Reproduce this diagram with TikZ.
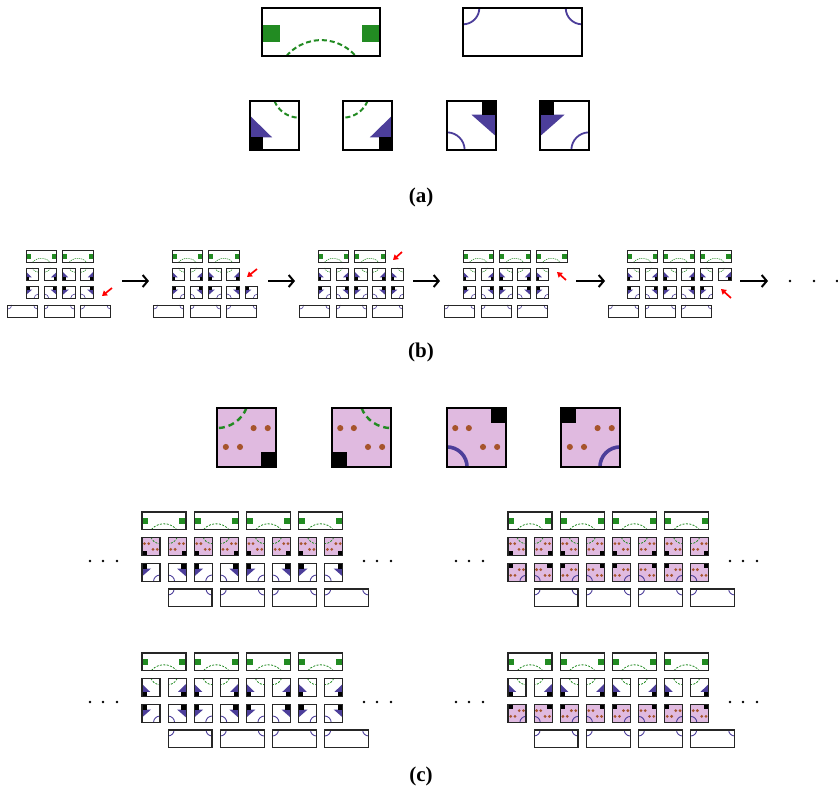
\documentclass[tikz,border=0pt]{standalone}
\usepackage{fontspec}
\setmainfont{Liberation Serif}
\usetikzlibrary{arrows.meta}
\definecolor{grn}{RGB}{34,139,34}
\definecolor{blu}{RGB}{76,62,154}
\definecolor{pnk}{RGB}{224,186,224}
\definecolor{dotc}{RGB}{166,84,44}
\tikzset{
 rw/.store in=\rw, rw=2.5,
 dotr/.store in=\dotr, dotr=0.052,
 frm/.style={draw=black,line width=1pt},
 garc/.style={draw=grn,dashed,line width=0.6pt},
 barc/.style={draw=blu,line width=0.6pt},
 tri/.style={fill=blu},
 blk/.style={fill=black},
 dotst/.style={fill=dotc},
 sizeA/.style={frm/.style={draw=black,line width=2.6pt},
   garc/.style={draw=grn,line width=2pt,dash pattern=on 5pt off 3pt},
   barc/.style={draw=blu,line width=1.8pt}},
 sizeB/.style={frm/.style={draw=black!85,line width=0.9pt},
   garc/.style={draw=grn,line width=0.55pt,dash pattern=on 1.3pt off 0.9pt},
   barc/.style={draw=blu,line width=0.6pt}},
 sizeC/.style={dotr=0.085,frm/.style={draw=black!85,line width=1.2pt},
   garc/.style={draw=grn,line width=0.8pt,dash pattern=on 2pt off 1.4pt},
   barc/.style={draw=blu,line width=0.9pt}},
 sizeD/.style={dotr=0.052,frm/.style={draw=black,line width=2.8pt},
   garc/.style={draw=grn,line width=2.4pt,dash pattern=on 6pt off 4pt},
   barc/.style={draw=blu,line width=3.6pt}},
 lab/.style={font=\fontsize{21}{24}\selectfont\bfseries},
 bigarr/.style={line width=2pt,-{Straight Barb[length=5pt,width=12pt]}},
 redarr/.style={red,line width=1.7pt,-{Triangle[length=5pt,width=6pt]}},
 w1/.pic={
  \fill[white] (0,0) rectangle (1,1);
  \fill[tri] (0,0.3) -- (0,0.74) -- (0.45,0.74) -- cycle;
  \fill[blk] (0,0.74) rectangle (0.26,1);
  \draw[garc] (0.5,0) arc[start angle=158.4,end angle=90,radius=0.538];
  \draw[frm] (0,0) rectangle (1,1);
 },
 w2/.pic={
  \fill[white] (0,0) rectangle (1,1);
  \fill[tri] (1,0.3) -- (1,0.74) -- (0.55,0.74) -- cycle;
  \fill[blk] (0.74,0.74) rectangle (1,1);
  \draw[garc] (0.5,0) arc[start angle=21.6,end angle=90,radius=0.538];
  \draw[frm] (0,0) rectangle (1,1);
 },
 w3/.pic={
  \fill[white] (0,0) rectangle (1,1);
  \fill[tri] (0.5,0.28) -- (1,0.28) -- (1,0.72) -- cycle;
  \fill[blk] (0.72,0) rectangle (1,0.28);
  \draw[barc] (0,0.64) arc[start angle=270,end angle=360,radius=0.36];
  \draw[frm] (0,0) rectangle (1,1);
 },
 w4/.pic={
  \fill[white] (0,0) rectangle (1,1);
  \fill[tri] (0.5,0.28) -- (0,0.28) -- (0,0.72) -- cycle;
  \fill[blk] (0,0) rectangle (0.28,0.28);
  \draw[barc] (1,0.64) arc[start angle=270,end angle=180,radius=0.36];
  \draw[frm] (0,0) rectangle (1,1);
 },
 p1/.pic={
  \fill[pnk] (0,0) rectangle (1,1);
  \fill[blk] (0,0.75) rectangle (0.25,1);
  \foreach \a/\b in {0.14/0.34,0.37/0.34,0.61/0.66,0.85/0.66} \fill[dotst] (\a,\b) circle[radius=\dotr];
  \draw[garc] (0.5,0) arc[start angle=158.4,end angle=90,radius=0.538];
  \draw[frm] (0,0) rectangle (1,1);
 },
 p2/.pic={
  \fill[pnk] (0,0) rectangle (1,1);
  \fill[blk] (0.75,0.75) rectangle (1,1);
  \foreach \a/\b in {0.15/0.66,0.39/0.66,0.62/0.34,0.86/0.34} \fill[dotst] (\a,\b) circle[radius=\dotr];
  \draw[garc] (0.5,0) arc[start angle=21.6,end angle=90,radius=0.538];
  \draw[frm] (0,0) rectangle (1,1);
 },
 p3/.pic={
  \fill[pnk] (0,0) rectangle (1,1);
  \fill[blk] (0.74,0) rectangle (1,0.26);
  \foreach \a/\b in {0.14/0.34,0.37/0.34,0.61/0.66,0.85/0.66} \fill[dotst] (\a,\b) circle[radius=\dotr];
  \draw[barc] (0,0.66) arc[start angle=270,end angle=360,radius=0.34];
  \draw[frm] (0,0) rectangle (1,1);
 },
 p4/.pic={
  \fill[pnk] (0,0) rectangle (1,1);
  \fill[blk] (0,0) rectangle (0.26,0.26);
  \foreach \a/\b in {0.15/0.66,0.39/0.66,0.62/0.34,0.86/0.34} \fill[dotst] (\a,\b) circle[radius=\dotr];
  \draw[barc] (1,0.66) arc[start angle=270,end angle=180,radius=0.34];
  \draw[frm] (0,0) rectangle (1,1);
 },
 gr/.pic={
  \fill[white] (0,0) rectangle (\rw,1);
  \fill[grn] (0,0.35) rectangle (0.37,0.71);
  \fill[grn] ({\rw-0.37},0.35) rectangle (\rw,0.71);
  \draw[garc] ({\rw/2-0.72},1) arc[start angle=220.7,end angle=319.3,radius=0.95];
  \draw[frm] (0,0) rectangle (\rw,1);
 },
 br/.pic={
  \fill[white] (0,0) rectangle (\rw,1);
  \draw[barc] (0.34,0) arc[start angle=0,end angle=90,radius=0.34];
  \draw[barc] ({\rw-0.34},0) arc[start angle=180,end angle=90,radius=0.34];
  \draw[frm] (0,0) rectangle (\rw,1);
 },
}
% (b) configuration: x0, #green rects, #row2, #row3
\newcommand\bconf[4]{%
 \foreach \k in {1,...,#2} \pic[sizeB,rw=2.5,scale=12.3] at ({#1+(2*\k-2)*18.3},250) {gr};
 \foreach \i in {1,...,#3} {\ifodd\i \pic[sizeB,scale=12.5] at ({#1+(\i-1)*18.3},268) {w1};\else \pic[sizeB,scale=12.5] at ({#1+(\i-1)*18.3},268) {w2};\fi}
 \foreach \i in {1,...,#4} {\ifodd\i \pic[sizeB,scale=12.5] at ({#1+(\i-1)*18.3},286) {w4};\else \pic[sizeB,scale=12.5] at ({#1+(\i-1)*18.3},286) {w3};\fi}
 \foreach \k in {1,2,3} \pic[sizeB,rw=2.5,scale=12] at ({#1+(2*\k-3)*18.3},305) {br};
}
% (c) panel: x0, y0, row2 odd/even, row3 odd/even
\newcommand\cpanel[6]{%
 \foreach \k in {0,...,3} \pic[sizeC,rw=2.51,scale=17.5] at ({#1+\k*52.2},#2) {gr};
 \foreach \i in {0,...,7} {\ifodd\i \pic[sizeC,scale=18] at ({#1+\i*26.1},{#2+25.5}) {#4};\else \pic[sizeC,scale=18] at ({#1+\i*26.1},{#2+25.5}) {#3};\fi}
 \foreach \i in {0,...,7} {\ifodd\i \pic[sizeC,scale=18] at ({#1+\i*26.1},{#2+51.5}) {#6};\else \pic[sizeC,scale=18] at ({#1+\i*26.1},{#2+51.5}) {#5};\fi}
 \foreach \k in {0,...,3} \pic[sizeC,rw=2.51,scale=17.5] at ({#1+26.1+\k*52.2},{#2+77}) {br};
 \foreach \d in {-52,-39,-25,222,235,249} \fill ({#1+\d},{#2+49}) circle[radius=1.3];
}
\begin{document}
\begin{tikzpicture}[x=1pt,y=-1pt]
\useasboundingbox (0,0) rectangle (838,796);
\fill[white] (0,0) rectangle (838,796);
% ---------- (a)
\pic[sizeA,rw=2.46,scale=48] at (262,8) {gr};
\pic[sizeA,rw=2.48,scale=48] at (463,8) {br};
\pic[sizeA,scale=49] at (250,101) {w1};
\pic[sizeA,scale=49] at (343,101) {w2};
\pic[sizeA,scale=49] at (447,101) {w3};
\pic[sizeA,scale=49] at (540,101) {w4};
\node[lab] (la) at (421,197) {(a)};
% ---------- (b)
\bconf{26}{2}{4}{4}
\bconf{172}{2}{4}{5}
\bconf{318}{2}{5}{5}
\bconf{463}{3}{5}{5}
\bconf{627}{3}{6}{5}
\coordinate (a1s) at (122,281); \coordinate (a1e) at (149,281);
\coordinate (a2s) at (268,281); \coordinate (a2e) at (295,281);
\coordinate (a3s) at (413,281); \coordinate (a3e) at (440,281);
\coordinate (a4s) at (576,281); \coordinate (a4e) at (605,281);
\coordinate (a5s) at (740,281); \coordinate (a5e) at (768,281);
\foreach \n in {1,...,5} \draw[bigarr] (a\n s) -- (a\n e);
\coordinate (r1s) at (112,288); \coordinate (r1e) at (102,296);
\coordinate (r2s) at (257,269); \coordinate (r2e) at (247,277);
\coordinate (r3s) at (402,252); \coordinate (r3e) at (393,260);
\coordinate (r4s) at (566,280); \coordinate (r4e) at (557,272);
\coordinate (r5s) at (731,298); \coordinate (r5e) at (721,289);
\foreach \n in {1,...,5} \draw[redarr] (r\n s) -- (r\n e);
\foreach \x in {790,814,837} \fill (\x,281) circle[radius=1.4];
\node[lab] (lb) at (421,352) {(b)};
% ---------- (c)
\pic[sizeD,scale=59] at (217,408) {p2};
\pic[sizeD,scale=59] at (332,408) {p1};
\pic[sizeD,scale=59] at (447,408) {p3};
\pic[sizeD,scale=59] at (561,408) {p4};
\cpanel{142}{512}{p1}{p2}{w4}{w3}
\cpanel{508}{512}{p1}{p2}{p4}{p3}
\cpanel{142}{653}{w1}{w2}{w4}{w3}
\cpanel{508}{653}{w1}{w2}{p4}{p3}
\node[lab] (lc) at (421,776) {(c)};
\end{tikzpicture}
\end{document}
